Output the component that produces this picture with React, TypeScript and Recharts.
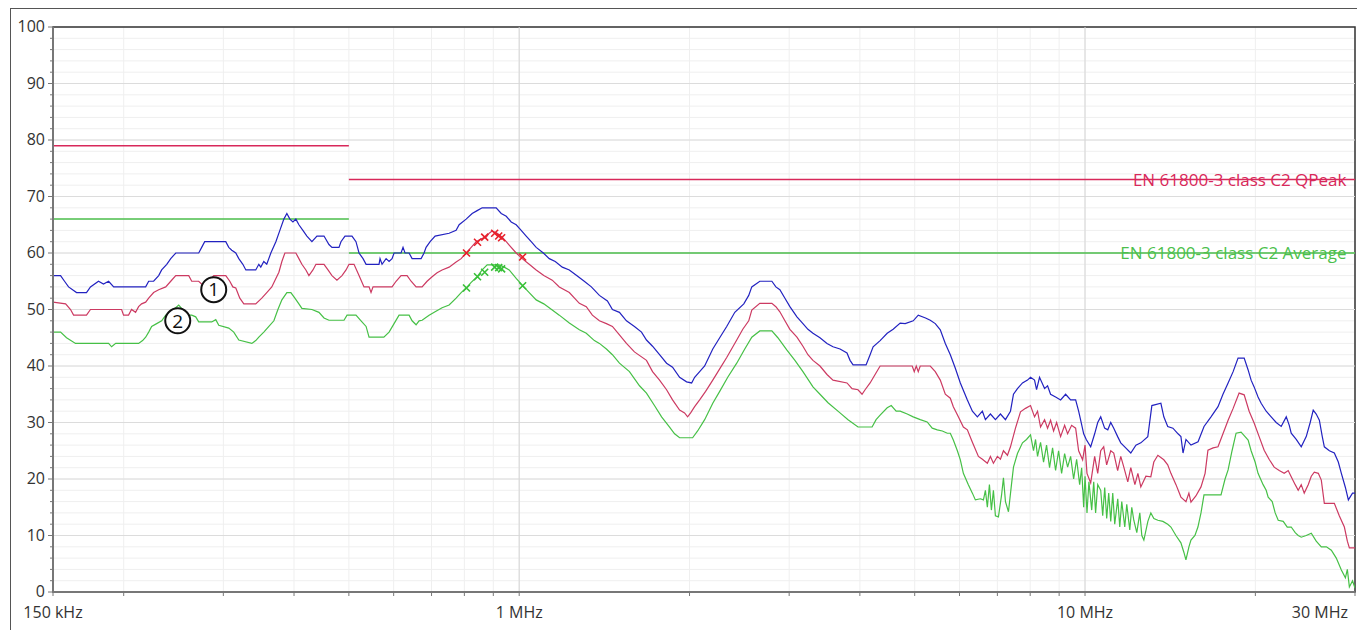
import {
  ComposedChart,
  Line,
  Scatter,
  XAxis,
  YAxis,
  CartesianGrid,
  ReferenceLine,
  ReferenceDot,
  ReferenceArea,
} from 'recharts';

// frequency in MHz, level in dBµV
const peakTrace: [number, number][] = [
  [0.15, 56], [0.1547, 56], [0.1572, 55], [0.1598, 54], [0.1651, 53], [0.1719, 53], [0.1747, 54], [0.1805, 55],
  [0.1842, 54.5], [0.1881, 55], [0.192, 54], [0.2187, 54], [0.2214, 55], [0.2259, 55], [0.2306, 56], [0.2334, 57],
  [0.2383, 58], [0.2422, 59], [0.2472, 60], [0.2522, 60], [0.2714, 60], [0.2747, 61], [0.2781, 62], [0.303, 62],
  [0.3067, 61], [0.3105, 60.5], [0.3156, 60], [0.3195, 59], [0.3248, 58], [0.3288, 57], [0.3423, 57], [0.3466, 58],
  [0.3494, 57.5], [0.3537, 58.5], [0.358, 58], [0.364, 60], [0.3715, 62], [0.3776, 64], [0.3838, 66], [0.3885, 67],
  [0.3933, 66], [0.3982, 65.5], [0.403, 66], [0.408, 65], [0.4147, 64], [0.4215, 63], [0.4302, 62], [0.4391, 63],
  [0.4519, 63], [0.4611, 61.5], [0.4668, 61], [0.4803, 61], [0.4842, 62], [0.4922, 63], [0.5064, 63], [0.5147, 62],
  [0.5211, 60], [0.5297, 59], [0.5363, 58], [0.5653, 58], [0.5676, 59], [0.5723, 58], [0.5818, 59], [0.5889, 58.5],
  [0.5961, 59], [0.601, 60], [0.6183, 60], [0.6233, 61], [0.6284, 60], [0.6389, 60], [0.6467, 59], [0.6709, 59],
  [0.679, 60], [0.6846, 61], [0.696, 62], [0.7102, 63], [0.7519, 63.5], [0.7736, 64], [0.7832, 65], [0.8058, 66],
  [0.8258, 67], [0.8428, 67.5], [0.8601, 68], [0.9106, 68], [0.9295, 67], [0.9487, 66.5], [0.968, 65.5], [0.9878, 65],
  [1.0082, 64], [1.0289, 63], [1.0501, 62], [1.0716, 61], [1.1032, 60], [1.1302, 59], [1.158, 58.5], [1.1917, 57.5],
  [1.2263, 57], [1.2635, 56], [1.3031, 55], [1.3413, 54], [1.3859, 52.5], [1.4319, 51.5], [1.4614, 50], [1.5037, 49.5],
  [1.5472, 48], [1.5983, 47], [1.645, 46], [1.6786, 44.6], [1.7205, 43.5], [1.7703, 42], [1.8216, 40.5], [1.8665, 39.8],
  [1.9208, 38], [1.9763, 37.2], [2.0172, 37], [2.042, 38], [2.0841, 39], [2.127, 40], [2.1984, 43], [2.2613, 45],
  [2.3267, 47], [2.4046, 49.5], [2.4942, 51], [2.5449, 52.5], [2.5767, 54], [2.6622, 55], [2.796, 55], [2.842, 54],
  [2.8885, 53.5], [2.9487, 52], [3.0088, 50.5], [3.0963, 48.7], [3.1729, 47.5], [3.238, 46.5], [3.305, 45.8], [3.4006, 45],
  [3.4992, 44], [3.5858, 43.4], [3.6897, 43], [3.796, 42.3], [3.8434, 41], [3.891, 40.2], [4.1023, 40.2], [4.1702, 42],
  [4.2217, 43.4], [4.3438, 44.5], [4.4707, 45.8], [4.5802, 46.5], [4.7132, 47.6], [4.8106, 47.5], [4.9705, 48], [5.0729, 49],
  [5.2259, 48.5], [5.3269, 48.1], [5.4366, 47.5], [5.5487, 46.4], [5.6631, 44], [5.7798, 42], [5.8989, 39.6], [6.0205, 37],
  [6.1953, 34], [6.323, 32], [6.453, 31], [6.586, 32], [6.667, 30.5], [6.8044, 31.5], [6.9446, 30.5], [7.0878, 31.5],
  [7.2337, 30.5], [7.383, 32], [7.474, 35], [7.596, 36], [7.7533, 37], [7.913, 37.5], [8.0107, 38], [8.143, 37.5],
  [8.21, 35.8], [8.31, 38], [8.482, 36], [8.586, 36.5], [8.6918, 35], [8.871, 34.5], [9.0538, 34], [9.24, 35],
  [9.4308, 34], [9.625, 34], [9.743, 32], [9.8236, 30.4], [9.945, 28], [10.05, 27], [10.233, 25.7], [10.4, 28],
  [10.53, 30], [10.659, 31], [10.83, 29], [10.97, 28.7], [11.103, 30], [11.24, 29], [11.42, 27.5], [11.565, 26.4],
  [11.8, 25.5], [12.047, 24.6], [12.3, 26], [12.549, 26.4], [12.91, 27.5], [13.125, 33], [13.616, 33.4], [13.78, 31],
  [14.0, 29.3], [14.3, 29], [14.6, 28], [14.773, 27.5], [14.9, 24.6], [15.08, 27], [15.389, 26], [15.84, 26.6],
  [16.23, 29.3], [16.697, 31], [17.18, 32.8], [17.53, 35], [17.9, 37], [18.27, 39], [18.64, 41.4], [19.11, 41.4],
  [19.42, 39.3], [19.657, 37.5], [19.9, 36.3], [20.22, 34.5], [20.476, 33.4], [20.9, 32], [21.329, 31], [21.77, 30],
  [22.217, 29.3], [22.68, 31], [22.96, 29.5], [23.142, 28.1], [23.62, 27], [24.106, 25.7], [24.6, 27.5], [25.0, 30],
  [25.31, 32.2], [25.62, 31.5], [25.95, 30.4], [26.26, 27.5], [26.48, 25.7], [27.03, 25], [27.58, 24.6], [28.03, 23],
  [28.38, 21], [28.85, 18.5], [29.2, 16.3], [29.7, 17.5], [30, 17.5],
];

const quasiPeakTrace: [number, number][] = [
  [0.15, 51.3], [0.1579, 51], [0.1611, 50], [0.1631, 49], [0.1719, 49], [0.1747, 50], [0.1983, 50], [0.1999, 49],
  [0.204, 49], [0.2065, 50], [0.2099, 49.5], [0.2125, 50.5], [0.2151, 51], [0.2187, 51.3], [0.2214, 52], [0.2259, 53],
  [0.2306, 53.5], [0.2373, 54], [0.2422, 55], [0.2472, 56], [0.2606, 56], [0.2638, 55], [0.2714, 55], [0.2747, 54.5],
  [0.2827, 55], [0.2885, 56], [0.303, 56], [0.308, 55], [0.3118, 54], [0.3156, 53.8], [0.3208, 52], [0.3261, 51],
  [0.3423, 51], [0.3508, 52], [0.358, 53], [0.3654, 54], [0.3715, 55.5], [0.3761, 56.6], [0.3807, 58.5], [0.3854, 60],
  [0.403, 60], [0.408, 59], [0.413, 58], [0.4198, 57], [0.425, 56], [0.432, 57], [0.4373, 58], [0.4519, 58],
  [0.4593, 57], [0.4668, 56], [0.4763, 55.2], [0.4862, 56], [0.4943, 57], [0.5003, 58], [0.5106, 58], [0.5211, 56],
  [0.5318, 54], [0.5428, 54], [0.5472, 53], [0.5517, 54], [0.5961, 54], [0.6059, 55], [0.6183, 56], [0.6337, 56],
  [0.6441, 55], [0.6573, 54], [0.6736, 54], [0.6874, 55], [0.7016, 55.8], [0.716, 56.5], [0.7307, 57], [0.7519, 57.5],
  [0.7736, 58.4], [0.7896, 59], [0.8058, 60], [0.8225, 61], [0.8394, 62], [0.8567, 62.5], [0.8742, 62.8], [0.8851, 63.5],
  [0.896, 63.9], [0.9144, 63.5], [0.9332, 62.8], [0.9487, 62], [0.9601, 61.4], [0.9878, 60], [1.0123, 59], [1.0416, 58],
  [1.0716, 57], [1.1053, 56], [1.144, 55.2], [1.1772, 54], [1.2263, 53], [1.2773, 51.1], [1.3139, 50.5], [1.3468, 49],
  [1.3859, 48], [1.426, 47.5], [1.4614, 47], [1.5037, 45.5], [1.5472, 44], [1.5983, 42.5], [1.6786, 41], [1.7205, 39],
  [1.7703, 37.5], [1.8216, 35.8], [1.8665, 34], [1.9208, 32.2], [1.96, 31.7], [1.9845, 31], [2.009, 31.7], [2.042, 32.8],
  [2.0841, 34], [2.1353, 35.5], [2.1984, 37.5], [2.2613, 39.5], [2.3267, 41.5], [2.4236, 44.6], [2.484, 46.5], [2.5449, 48],
  [2.5767, 49.9], [2.6622, 51.1], [2.796, 51.1], [2.842, 50.5], [2.8885, 49.6], [2.9487, 48], [3.0088, 46.5], [3.0963, 45.1],
  [3.1729, 43.5], [3.238, 42], [3.305, 41], [3.4006, 40], [3.4992, 38.5], [3.5858, 37.5], [3.796, 37], [3.875, 36],
  [3.97, 35.8], [4.036, 35], [4.086, 35.8], [4.1702, 37], [4.256, 38.5], [4.3438, 40], [4.95, 40], [4.991, 39],
  [5.032, 40], [5.073, 39], [5.1139, 40], [5.3269, 40], [5.4366, 39], [5.5487, 37.5], [5.6631, 35], [5.7798, 34.3],
  [5.851, 32.8], [5.972, 31], [6.095, 29.2], [6.1953, 28.7], [6.323, 26.5], [6.48, 24], [6.586, 23.5], [6.72, 22.8],
  [6.8044, 24], [6.888, 22.8], [7.0, 24], [7.0878, 23.5], [7.175, 25], [7.293, 24.2], [7.383, 25.7], [7.535, 29],
  [7.6904, 31.9], [7.849, 32.5], [8.0107, 33], [8.143, 31], [8.243, 32], [8.3443, 29.2], [8.482, 30.5], [8.586, 29],
  [8.6918, 30.4], [8.799, 28.5], [8.908, 30], [9.0538, 27.5], [9.203, 29.5], [9.316, 28], [9.469, 29.5], [9.625, 29],
  [9.743, 25], [9.903, 23.4], [10.0, 26], [10.08, 21], [10.233, 19.3], [10.4, 24], [10.53, 21], [10.659, 25],
  [10.79, 25.7], [10.92, 22.5], [11.103, 25], [11.24, 24.6], [11.42, 21.5], [11.565, 24], [11.71, 22.1], [11.9, 19.5],
  [12.047, 22], [12.25, 19], [12.4, 21], [12.549, 18.6], [12.81, 20.5], [13.071, 20.4], [13.23, 23], [13.45, 24.2],
  [13.78, 23.4], [14.0, 22.5], [14.183, 21], [14.48, 19], [14.773, 16.8], [15.08, 16], [15.26, 17.5], [15.389, 15.9],
  [15.7, 17], [16.03, 18.6], [16.3, 21], [16.49, 25.1], [16.84, 25.5], [17.18, 25.7], [17.53, 28], [17.9, 30.4],
  [18.27, 32.5], [18.72, 35.2], [19.11, 34.9], [19.5, 32], [19.9, 29.9], [20.31, 27.5], [20.73, 25.1], [21.15, 23.5],
  [21.59, 22.1], [22.04, 21.5], [22.49, 21], [22.86, 21.5], [23.142, 20.4], [23.52, 19], [23.81, 18], [24.106, 19],
  [24.4, 17.5], [24.8, 19], [25.11, 20.5], [25.42, 21.2], [25.84, 21], [26.156, 19.8], [26.48, 15.7], [27.58, 15.7],
  [28.14, 13.5], [28.73, 11.5], [29.08, 9], [29.32, 7.8], [30, 7.8],
];

const averageTrace: [number, number][] = [
  [0.15, 46], [0.1547, 46], [0.1585, 45], [0.1644, 44], [0.1881, 44], [0.1904, 43.4], [0.1936, 44], [0.2125, 44],
  [0.216, 44.5], [0.2187, 45.1], [0.2214, 46], [0.2241, 47], [0.2287, 47.5], [0.2334, 48], [0.2373, 49], [0.2402, 49.4],
  [0.2451, 50], [0.2502, 50.8], [0.2543, 50], [0.2574, 49], [0.2638, 49], [0.2681, 48.7], [0.2714, 47.8], [0.2862, 47.8],
  [0.2909, 48.2], [0.2945, 47.2], [0.3067, 46.7], [0.313, 46], [0.3195, 44.6], [0.3369, 44], [0.3423, 44.5], [0.3466, 45.1],
  [0.3537, 46], [0.3611, 47], [0.3685, 48], [0.3746, 50], [0.3807, 51.7], [0.3885, 53], [0.3949, 53], [0.4014, 52],
  [0.408, 51], [0.413, 50.2], [0.4302, 50], [0.4427, 49.5], [0.4519, 48.5], [0.4611, 48.1], [0.4902, 48.1], [0.4963, 49],
  [0.5147, 49], [0.5254, 48], [0.5363, 47], [0.5428, 45.1], [0.5765, 45.1], [0.5889, 46], [0.601, 47.5], [0.6133, 49],
  [0.6389, 49], [0.6467, 48], [0.6573, 47.3], [0.6654, 48], [0.6736, 48.1], [0.6931, 49], [0.7102, 49.6], [0.7307, 50.3],
  [0.7519, 50.8], [0.7736, 52], [0.7896, 53], [0.8058, 53.8], [0.8225, 54.8], [0.8428, 55.8], [0.8601, 57], [0.8778, 57.9],
  [0.9219, 57.9], [0.9408, 57.5], [0.9601, 57], [0.9878, 55.5], [1.0123, 54.3], [1.0416, 53], [1.0716, 51.7], [1.1053, 51],
  [1.144, 49.9], [1.1772, 49], [1.2263, 47.6], [1.2773, 46.4], [1.3139, 45.8], [1.3579, 44.5], [1.3859, 44], [1.426, 43],
  [1.4614, 42], [1.5037, 40.5], [1.5663, 39], [1.6316, 36.5], [1.6786, 35.2], [1.734, 33], [1.785, 31], [1.844, 29.2],
  [1.882, 28], [1.9208, 27.3], [2.0253, 27.3], [2.067, 28.5], [2.127, 30.5], [2.1984, 33.4], [2.2613, 35.5], [2.3365, 38],
  [2.4236, 40.5], [2.504, 43], [2.5767, 45.1], [2.6622, 46.2], [2.796, 46.2], [2.865, 45], [2.973, 42.8], [3.071, 41],
  [3.1729, 39], [3.305, 36.3], [3.4006, 35], [3.514, 33.5], [3.6897, 31.7], [3.812, 30.5], [3.97, 29.2], [4.204, 29.2],
  [4.273, 30.5], [4.3438, 31.3], [4.4707, 32.6], [4.545, 33], [4.637, 32], [4.7132, 32], [4.85, 31.5], [4.9705, 31],
  [5.1139, 30.5], [5.26, 30.1], [5.37, 29], [5.482, 28.7], [5.595, 28.5], [5.71, 28.1], [5.7798, 28.1], [5.851, 26.9],
  [5.948, 25], [6.0205, 23.4], [6.095, 21], [6.22, 19], [6.323, 17.5], [6.4, 16.3], [6.5324, 16.5], [6.613, 16.3],
  [6.667, 18], [6.72, 15], [6.777, 19], [6.832, 14.5], [6.888, 18], [6.944, 13.5], [7.03, 13.3], [7.117, 17],
  [7.175, 20.2], [7.234, 16], [7.323, 14.2], [7.413, 19], [7.474, 22.1], [7.596, 24.5], [7.753, 26.4], [7.881, 27],
  [8.0107, 27.8], [8.109, 25], [8.176, 27], [8.243, 24], [8.3443, 26.5], [8.447, 23], [8.551, 26], [8.656, 22],
  [8.763, 25.5], [8.871, 21.5], [8.98, 25], [9.091, 21], [9.203, 24.5], [9.316, 22.1], [9.4308, 24], [9.547, 20],
  [9.664, 23.5], [9.784, 19], [9.864, 22], [9.945, 15], [10.0, 20.5], [10.08, 14], [10.16, 19.5], [10.275, 14.5],
  [10.36, 19.5], [10.44, 14], [10.53, 19], [10.659, 18], [10.746, 13.5], [10.834, 18.5], [10.922, 13], [11.012, 17.5],
  [11.103, 12.5], [11.194, 17.5], [11.285, 12], [11.425, 16.5], [11.518, 11.5], [11.612, 16], [11.755, 11.5], [11.851, 15.5],
  [11.997, 11], [12.095, 15], [12.195, 12.7], [12.345, 10.5], [12.497, 14], [12.6, 10], [12.705, 9.2], [12.914, 12.5],
  [13.071, 14], [13.232, 13], [13.45, 12.7], [13.728, 12.5], [14.0, 12], [14.183, 11.5], [14.476, 10], [14.773, 8.7],
  [14.955, 7], [15.077, 5.7], [15.262, 8], [15.389, 9.2], [15.64, 10], [15.832, 11.5], [16.03, 14], [16.227, 17.2],
  [17.392, 17.2], [17.68, 20], [17.9, 21.6], [18.19, 25], [18.49, 28.1], [18.871, 28.3], [19.18, 27.5], [19.42, 26.9],
  [19.657, 25], [19.98, 23], [20.22, 21], [20.64, 19], [20.9, 18], [21.07, 16.8], [21.42, 16], [21.68, 14],
  [21.95, 12.7], [22.4, 12.5], [22.77, 11.5], [23.142, 11.5], [23.52, 10.5], [23.81, 10], [24.106, 9.7], [24.6, 10],
  [25.11, 10.4], [25.62, 9], [26.156, 8], [26.7, 8], [27.245, 7.4], [27.8, 6], [28.38, 3.9], [28.85, 2.5],
  [29.08, 4], [29.32, 0.9], [29.7, 2], [30, 0.7],
];

const quasiPeakMarkers: [number, number][] = [
  [0.807, 60], [0.844, 61.9], [0.869, 62.8], [0.905, 63.5], [0.92, 63], [0.931, 62.7], [1.014, 59.3],
];
const averageMarkers: [number, number][] = [
  [0.807, 53.8], [0.844, 55.8], [0.869, 56.6], [0.905, 57.5], [0.92, 57.4], [0.931, 57.2], [1.014, 54.2],
];

// EN 61800-3 class C2 limits
const qpLimitLow: [number, number][] = [[0.15, 79], [0.5, 79]];
const qpLimitHigh: [number, number][] = [[0.5, 73], [30, 73]];
const avgLimitLow: [number, number][] = [[0.15, 66], [0.5, 66]];
const avgLimitHigh: [number, number][] = [[0.5, 60], [30, 60]];

const freqTicks = [
  0.15, 0.2, 0.3, 0.4, 0.5, 0.6, 0.7, 0.8, 0.9, 1, 2, 3, 4, 5, 6, 7, 8, 9, 10, 20, 30,
];
const freqLabels: Record<string, string> = {
  '0.15': '150 kHz',
  '1': '1 MHz',
  '10': '10 MHz',
  '30': '30 MHz',
};
const decadeFreqs = [1, 10];
const levelTicks = [
  0, 2, 4, 6, 8, 10, 12, 14, 16, 18, 20, 22, 24, 26, 28, 30, 32, 34, 36, 38, 40, 42, 44, 46, 48, 50,
  52, 54, 56, 58, 60, 62, 64, 66, 68, 70, 72, 74, 76, 78, 80, 82, 84, 86, 88, 90, 92, 94, 96, 98, 100,
];
const majorLevels = [10, 20, 30, 40, 50, 60, 70, 80, 90];

const callouts = [
  { id: '1', f: 0.2885, v: 53.5 },
  { id: '2', f: 0.2492, v: 48.0 },
];

const toPoints = (arr: [number, number][]) => arr.map(([f, v]) => ({ f, v }));

const BLUE = '#2222c0';
const CRIMSON = '#cc3a62';
const GREEN = '#46c046';
const LIMIT_RED = '#d8285a';
const LIMIT_GREEN = '#4cbf4c';
const FONT = '"Open Sans", "Noto Sans", sans-serif';

function FreqTick({ x, y, payload }: any) {
  const value = payload.value;
  const label = freqLabels[String(value)];
  const isLast = value === 30;
  return (
    <g>
      <line x1={x} x2={x} y1={y} y2={y + 4} stroke="#777" strokeWidth={1} />
      {label && (
        <text
          x={isLast ? x - 7 : x}
          y={y + 26}
          textAnchor={isLast ? 'end' : 'middle'}
          fill="#333"
          fontSize={16}
          fontFamily={FONT}
        >
          {label}
        </text>
      )}
    </g>
  );
}

function LevelTick({ x, y, payload }: any) {
  const major = payload.value % 10 === 0;
  return (
    <g>
      <line x1={x - (major ? 5 : 3)} x2={x} y1={y} y2={y} stroke="#777" strokeWidth={1} />
      {major && (
        <text x={x - 8} y={y + 5} textAnchor="end" fill="#333" fontSize={16} fontFamily={FONT}>
          {payload.value}
        </text>
      )}
    </g>
  );
}

const crossShape = (color: string) => (props: any) => {
  const { cx, cy } = props;
  const s = 3.5;
  return (
    <path
      d={`M${cx - s},${cy - s}L${cx + s},${cy + s}M${cx - s},${cy + s}L${cx + s},${cy - s}`}
      stroke={color}
      strokeWidth={1.6}
      fill="none"
    />
  );
};

export default function App() {
  return (
    <div
      style={{
        position: 'absolute',
        left: 0,
        top: 0,
        width: 1357,
        height: 630,
        background: '#fff',
        overflow: 'hidden',
        fontFamily: FONT,
      }}
    >
      <div
        style={{
          position: 'absolute',
          left: 10,
          top: 8,
          width: 1400,
          height: 700,
          borderLeft: '1.5px solid #555',
          borderTop: '1.5px solid #555',
        }}
      />
      <div style={{ position: 'absolute', left: 0, top: 0 }}>
        <ComposedChart width={1357} height={630} margin={{ top: 27, right: 2, bottom: 0, left: 8 }}>
          <CartesianGrid stroke="#efefef" strokeWidth={1} />
          {majorLevels.map((lv) => (
            <ReferenceLine key={`h${lv}`} y={lv} stroke="#dcdcdc" strokeWidth={1} />
          ))}
          {decadeFreqs.map((f) => (
            <ReferenceLine key={`v${f}`} x={f} stroke="#d6d6d6" strokeWidth={1} />
          ))}
          <XAxis
            dataKey="f"
            type="number"
            scale="log"
            domain={[0.15, 30]}
            ticks={freqTicks}
            interval={0}
            tick={<FreqTick />}
            tickLine={false}
            tickSize={0}
            tickMargin={0}
            height={38}
            axisLine={{ stroke: '#777', strokeWidth: 2 }}
            allowDataOverflow
          />
          <YAxis
            dataKey="v"
            type="number"
            domain={[0, 100]}
            ticks={levelTicks}
            interval={0}
            tick={<LevelTick />}
            tickLine={false}
            tickSize={0}
            tickMargin={0}
            width={45}
            axisLine={{ stroke: '#777', strokeWidth: 2 }}
            allowDataOverflow
          />
          <ReferenceArea x1={0.15} x2={30} y1={0} y2={100} fill="none" stroke="#333" strokeWidth={1.5} />

          <Line data={toPoints(qpLimitLow)} dataKey="v" stroke={LIMIT_RED} strokeWidth={1.5} dot={false} isAnimationActive={false} />
          <Line data={toPoints(qpLimitHigh)} dataKey="v" stroke={LIMIT_RED} strokeWidth={1.5} dot={false} isAnimationActive={false} />
          <Line data={toPoints(avgLimitLow)} dataKey="v" stroke={LIMIT_GREEN} strokeWidth={1.5} dot={false} isAnimationActive={false} />
          <Line data={toPoints(avgLimitHigh)} dataKey="v" stroke={LIMIT_GREEN} strokeWidth={1.5} dot={false} isAnimationActive={false} />

          <Line data={toPoints(averageTrace)} dataKey="v" stroke={GREEN} strokeWidth={1.2} dot={false} isAnimationActive={false} />
          <Line data={toPoints(quasiPeakTrace)} dataKey="v" stroke={CRIMSON} strokeWidth={1.2} dot={false} isAnimationActive={false} />
          <Line data={toPoints(peakTrace)} dataKey="v" stroke={BLUE} strokeWidth={1.2} dot={false} isAnimationActive={false} />

          <Scatter data={toPoints(quasiPeakMarkers)} dataKey="v" shape={crossShape('#e8202a')} isAnimationActive={false} />
          <Scatter data={toPoints(averageMarkers)} dataKey="v" shape={crossShape('#38c038')} isAnimationActive={false} />

          <ReferenceDot
            x={30}
            y={73}
            r={0.5}
            fill="none"
            stroke="none"
            label={{ value: 'EN 61800-3 class C2 QPeak', position: 'left', offset: 8, fill: LIMIT_RED, fontSize: 17, fontFamily: FONT }}
          />
          <ReferenceDot
            x={30}
            y={60}
            r={0.5}
            fill="none"
            stroke="none"
            label={{ value: 'EN 61800-3 class C2 Average', position: 'left', offset: 8, fill: LIMIT_GREEN, fontSize: 17, fontFamily: FONT }}
          />
          {callouts.map((c) => (
            <ReferenceDot
              key={c.id}
              x={c.f}
              y={c.v}
              r={12.5}
              fill="#fff"
              stroke="#111"
              strokeWidth={2}
              label={{ value: c.id, position: 'center', fill: '#111', fontSize: 19, fontFamily: FONT }}
            />
          ))}
        </ComposedChart>
      </div>
    </div>
  );
}
